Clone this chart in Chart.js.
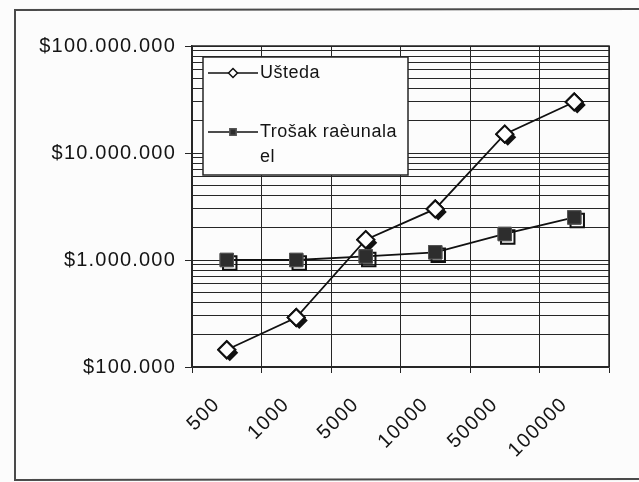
<!DOCTYPE html>
<html>
<head>
<meta charset="utf-8">
<script src="https://cdn.jsdelivr.net/npm/chart.js@4.4.0/dist/chart.umd.min.js"></script>
<style>
html, body { margin: 0; padding: 0; background: #fcfcfc; }
#wrap { width: 639px; height: 482px; }
</style>
</head>
<body>
<div id="wrap"><canvas id="chart" width="639" height="482"></canvas></div>
<script>
// Values
const categories = ['500', '1000', '5000', '10000', '50000', '100000'];
const usteda = [145000, 290000, 1550000, 3000000, 15000000, 30000000];
const trosak = [1000000, 1000000, 1080000, 1180000, 1750000, 2500000];
const seriesLabels = ['Ušteda', 'Trošak raèunala el'];
const yMajorTicks = [100000, 1000000, 10000000, 100000000];
const yMinorSteps = [2, 3, 4, 5, 6, 7, 8, 9];

// all horizontal grid lines: 1..9 in every decade
const yTickValues = [];
yMajorTicks.forEach((m, i) => {
    yTickValues.push(m);
    if (i < yMajorTicks.length - 1) yMinorSteps.forEach(s => yTickValues.push(m * s));
});

function money(v) {
    return '$' + String(Math.round(v)).replace(/\B(?=(\d{3})+(?!\d))/g, '.');
}

Chart.defaults.font.family = '"Liberation Sans", Arial, sans-serif';
Chart.defaults.color = '#141414';

const ink = '#262626';

// page frame of the scan
const framePlugin = {
    id: 'frame',
    beforeDraw(chart) {
        const c = chart.ctx;
        c.save();
        c.strokeStyle = '#4a4a4a';
        c.lineWidth = 2;
        c.beginPath();
        c.moveTo(639, 9);
        c.lineTo(15, 10);
        c.lineTo(15, 480);
        c.lineTo(639, 479);
        c.stroke();
        c.restore();
        chart.ctx.letterSpacing = '1.2px';
    }
};

// top/right plot border, marker shadows
const plotPlugin = {
    id: 'plotExtras',
    afterDatasetsDraw(chart) {
        const c = chart.ctx;
        const a = chart.chartArea;
        c.save();
        c.strokeStyle = ink;
        c.lineWidth = 1.5;
        c.beginPath();
        c.moveTo(a.left, a.top);
        c.lineTo(a.right, a.top);
        c.lineTo(a.right, a.bottom);
        c.stroke();
        c.restore();

        chart.data.datasets.forEach((ds, i) => {
            const meta = chart.getDatasetMeta(i);
            meta.data.forEach(el => {
                c.save();
                c.fillStyle = '#111';
                c.strokeStyle = '#111';
                if (ds.pointStyle === 'rectRot') {
                    Chart.helpers.drawPoint(c, { pointStyle: 'rectRot', radius: ds.pointRadius, borderWidth: 0 }, el.x + 3, el.y + 3);
                } else {
                    c.lineWidth = 2;
                    c.fillStyle = 'rgba(0,0,0,0)';
                    Chart.helpers.drawPoint(c, { pointStyle: 'rect', radius: ds.pointRadius, borderWidth: 2 }, el.x + 3, el.y + 3);
                }
                c.restore();
                el.draw(c, chart.chartArea);
            });
        });
    }
};

// legend box inside the plot, as in the original
const legendPlugin = {
    id: 'boxLegend',
    afterDraw(chart) {
        const c = chart.ctx;
        const box = { left: 203, top: 57, width: 205, height: 118 };
        const rows = [73, 132];
        c.save();
        c.letterSpacing = '0.5px';
        c.fillStyle = '#fdfdfd';
        c.strokeStyle = ink;
        c.lineWidth = 1.5;
        c.fillRect(box.left, box.top, box.width, box.height);
        c.strokeRect(box.left, box.top, box.width, box.height);
        c.font = '18px "Liberation Sans", Arial, sans-serif';
        c.textBaseline = 'middle';
        chart.data.datasets.forEach((ds, i) => {
            const y = rows[i];
            c.strokeStyle = ds.borderColor;
            c.lineWidth = 1.5;
            c.beginPath();
            c.moveTo(box.left + 5, y);
            c.lineTo(box.left + 55, y);
            c.stroke();
            c.fillStyle = ds.pointBackgroundColor;
            c.strokeStyle = ds.pointBorderColor;
            c.lineWidth = 1.5;
            Chart.helpers.drawPoint(c, { pointStyle: ds.pointStyle, radius: 4.5, borderWidth: 1.5 }, box.left + 30, y);
            // simple word wrap
            const words = ds.label.split(' ');
            const lines = [];
            let cur = '';
            words.forEach(w => {
                const t = cur ? cur + ' ' + w : w;
                if (c.measureText(t).width > 145 && cur) { lines.push(cur); cur = w; } else cur = t;
            });
            lines.push(cur);
            c.fillStyle = '#141414';
            lines.forEach((ln, k) => c.fillText(ln, box.left + 57, y + k * 25));
        });
        c.restore();
    }
};

const ctx = document.getElementById('chart');
new Chart(ctx, {
    type: 'line',
    data: {
        labels: categories,
        datasets: [{
            label: seriesLabels[0],
            data: usteda,
            borderColor: '#111',
            borderWidth: 1.8,
            pointStyle: 'rectRot',
            pointRadius: 8.5,
            pointBackgroundColor: '#ffffff',
            pointBorderColor: '#111',
            pointBorderWidth: 2,
            tension: 0
        }, {
            label: seriesLabels[1],
            data: trosak,
            borderColor: '#111',
            borderWidth: 1.8,
            pointStyle: 'rect',
            pointRadius: 9.5,
            pointBackgroundColor: '#2d2d2d',
            pointBorderColor: '#555',
            pointBorderWidth: 1,
            tension: 0
        }]
    },
    options: {
        responsive: false,
        animation: false,
        devicePixelRatio: 1,
        layout: { padding: { top: 46, right: 30, left: 0, bottom: 0 } },
        plugins: {
            legend: { display: false },
            tooltip: { enabled: false }
        },
        scales: {
            x: {
                type: 'category',
                offset: true,
                afterFit: s => { s.height = 115; },
                grid: { offset: true, color: ink, lineWidth: 1, tickLength: 6, tickColor: ink },
                border: { color: ink, width: 1.5 },
                ticks: { minRotation: 45, maxRotation: 45, padding: 20, labelOffset: -10, font: { size: 20 }, color: '#141414' }
            },
            y: {
                type: 'logarithmic',
                min: yMajorTicks[0],
                max: yMajorTicks[yMajorTicks.length - 1],
                afterBuildTicks: s => {
                    s.ticks = yTickValues.map(v => ({ value: v, major: yMajorTicks.includes(v) }));
                },
                afterFit: s => { s.width = 192; },
                grid: {
                    color: ink,
                    lineWidth: 1,
                    tickLength: 7,
                    tickColor: c => (c.tick && yMajorTicks.includes(c.tick.value)) ? ink : 'rgba(0,0,0,0)'
                },
                border: { color: ink, width: 1.5 },
                ticks: {
                    autoSkip: false,
                    padding: 9,
                    font: { size: 20 },
                    color: '#141414',
                    callback: v => yMajorTicks.includes(v) ? money(v) : ''
                }
            }
        }
    },
    plugins: [framePlugin, plotPlugin, legendPlugin]
});
</script>
</body>
</html>
